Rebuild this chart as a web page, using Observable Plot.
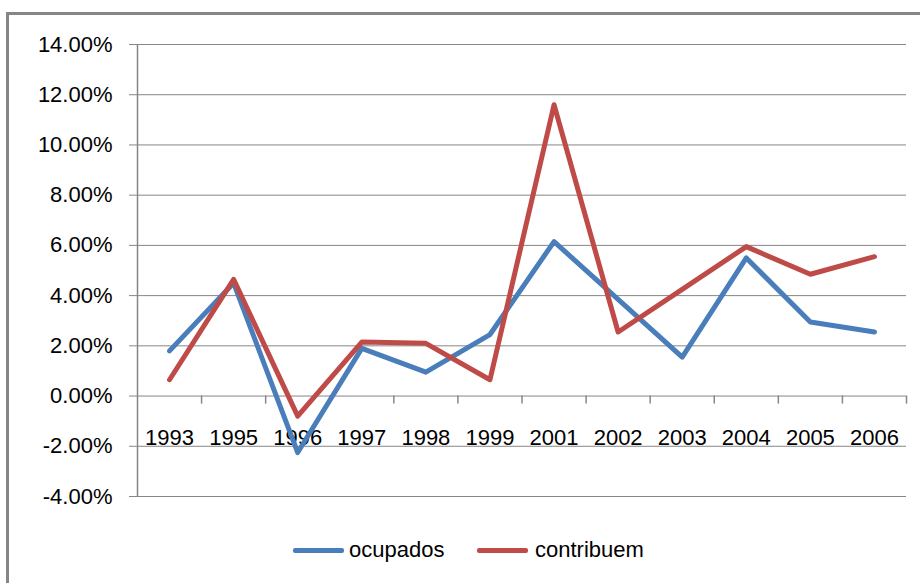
<!DOCTYPE html>
<html>
<head>
<meta charset="utf-8">
<script src="https://cdn.jsdelivr.net/npm/d3@7"></script>
<script src="https://cdn.jsdelivr.net/npm/@observablehq/plot@0.6"></script>
<style>
  html, body { margin: 0; padding: 0; background: #fff; overflow: hidden; }
  #wrap { position: relative; width: 920px; height: 583px; overflow: hidden; }
  #frame { position: absolute; left: 6px; top: 12px; width: 1000px; height: 1000px; border: 3px solid #868686; box-sizing: border-box; pointer-events: none; }
  #chart { position: absolute; left: 0; top: 0; }
  #legend { position: absolute; top: 536px; left: 0; width: 920px; height: 28px; font-family: "Liberation Sans", Arial, sans-serif; font-size: 22px; color: #000; }
  .sw { position: absolute; top: 12px; width: 51px; height: 5px; border-radius: 2px; }
  .lb { position: absolute; top: 0; line-height: 28px; }
</style>
</head>
<body>
<div id="wrap">
  <div id="chart"></div>
  <div id="frame"></div>
  <div id="legend"></div>
</div>
<script>
const years = ["1993","1995","1996","1997","1998","1999","2001","2002","2003","2004","2005","2006"];
const ocupados = [1.8, 4.5, -2.25, 1.9, 0.95, 2.45, 6.15, 3.85, 1.55, 5.5, 2.95, 2.55];
const contribuem = [0.65, 4.65, -0.8, 2.15, 2.1, 0.65, 11.6, 2.55, 4.25, 5.95, 4.85, 5.55];
const yTicks = [-4, -2, 0, 2, 4, 6, 8, 10, 12, 14];
const seriesNames = ["ocupados", "contribuem"];
const seriesColors = ["#4a7ebb", "#be4b48"];

const rowsOc = years.map((y, i) => ({i: i + 0.5, year: y, v: ocupados[i]}));
const rowsCo = years.map((y, i) => ({i: i + 0.5, year: y, v: contribuem[i]}));
const bounds = d3.range(1, years.length + 1);
const grid = "#868686";

const chart = Plot.plot({
  width: 920,
  height: 583,
  marginLeft: 137,
  marginRight: 14,
  marginTop: 44,
  marginBottom: 87,
  style: {fontFamily: "'Liberation Sans', Arial, sans-serif", fontSize: "22px", color: "#000", background: "transparent"},
  x: {type: "linear", domain: [0, years.length], axis: null},
  y: {domain: [-4, 14], axis: null},
  marks: [
    Plot.ruleY(yTicks, {stroke: grid, strokeWidth: 1}),
    Plot.ruleX([0], {stroke: grid, strokeWidth: 1.5}),
    Plot.ruleX(bounds, {y1: 0, y2: -0.32, stroke: grid, strokeWidth: 1.5}),
    Plot.axisY({ticks: yTicks, label: null, tickSize: 8, tickPadding: 17, stroke: grid, tickFormat: d => d.toFixed(2) + "%", fontSize: 22, fill: "#000"}),
    Plot.text(rowsOc, {x: "i", y: 0, text: "year", dy: 42, fontSize: 22, fill: "#000"}),
    Plot.line(rowsOc, {x: "i", y: "v", stroke: seriesColors[0], strokeWidth: 5, strokeLinejoin: "round"}),
    Plot.line(rowsCo, {x: "i", y: "v", stroke: seriesColors[1], strokeWidth: 5, strokeLinejoin: "round"})
  ]
});
document.getElementById("chart").appendChild(chart);

const legend = document.getElementById("legend");
const lx = [[293, 349], [477, 535]];
seriesNames.forEach((n, k) => {
  const s = document.createElement("div");
  s.className = "sw";
  s.style.left = lx[k][0] + "px";
  s.style.background = seriesColors[k];
  legend.appendChild(s);
  const t = document.createElement("div");
  t.className = "lb";
  t.style.left = lx[k][1] + "px";
  t.textContent = n;
  legend.appendChild(t);
});
</script>
</body>
</html>
